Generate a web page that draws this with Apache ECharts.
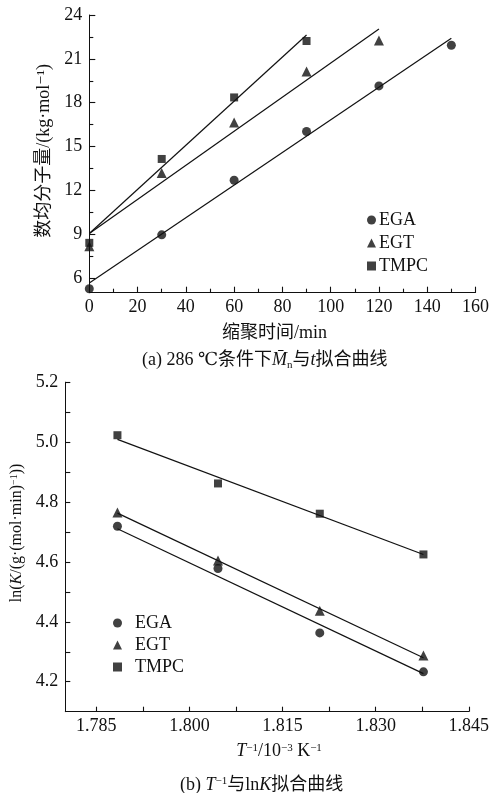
<!DOCTYPE html>
<html>
<head>
<meta charset="utf-8">
<script src="https://cdn.jsdelivr.net/npm/echarts@6/dist/echarts.min.js"></script>
<style>html,body{margin:0;padding:0;background:#fff}#c{width:492px;height:793px}</style>
</head>
<body>
<div id="c"></div>
<script>
// ---- chart (a): number-average molecular weight vs time ----
const timeMin = [0, 30, 60, 90, 120, 150];
const egaMn = [5.27, 8.96, 12.69, 16.03, 19.15, 21.93];
const egtMn = [8.18, 13.19, 16.65, 20.13, 22.25];
const tmpcMn = [8.41, 14.15, 18.36, 22.22];
const egaFitX = [0, 150], egaFitY = [5.66, 22.41];
const egtFitX = [0, 120], egtFitY = [9.05, 23.05];
const tmpcFitX = [0, 90], tmpcFitY = [9.05, 22.63];
const aYLabels = [6, 9, 12, 15, 18, 21, 24];
const aYMinor = [7.5, 10.5, 13.5, 16.5, 19.5, 22.5];

// ---- chart (b): lnK vs 1/T ----
const invT = [1.7884, 1.8046, 1.8210, 1.8377];
const egaLnK = [4.719, 4.578, 4.363, 4.233];
const egtLnK = [4.765, 4.605, 4.437, 4.288];
const tmpcLnK = [5.023, 4.862, 4.761, 4.625];
const egaFitB = [4.711, 4.227];
const egtFitB = [4.763, 4.280];
const tmpcFitB = [5.009, 4.625];
const bXLabels = [1.785, 1.800, 1.815, 1.830, 1.845];
const bXTicks = [1.785, 1.7925, 1.800, 1.8075, 1.815, 1.8225, 1.830, 1.8375, 1.845];
const bYLabels = [4.2, 4.4, 4.6, 4.8, 5.0, 5.2];
const bYTicks = [4.2, 4.3, 4.4, 4.5, 4.6, 4.7, 4.8, 4.9, 5.0, 5.1, 5.2];

const FONT = "'Liberation Serif','DejaVu Serif','Noto Sans CJK SC',serif";
const ink = '#111';
const zip = (xs, ys) => xs.map((x, i) => [x, ys[i]]);
const mkRich = (fs) => ({
  n: {fontFamily: FONT, fontSize: fs, color: ink, fontWeight: 'normal'},
  i: {fontFamily: FONT, fontSize: fs, color: ink, fontStyle: 'italic', fontWeight: 'normal'},
  sup: {fontFamily: FONT, fontSize: Math.round(fs * 0.62), color: ink, fontWeight: 'normal', verticalAlign: 'top', lineHeight: fs},
  sub: {fontFamily: FONT, fontSize: Math.round(fs * 0.62), color: ink, fontWeight: 'normal', verticalAlign: 'bottom', lineHeight: fs + 3}
});
const rich18 = mkRich(18);
const rich16 = mkRich(16);

const lineBase = {type: 'line', symbol: 'none', silent: true, lineStyle: {color: ink, width: 1.2}, z: 1};
const scat = (name, xi, yi, sym, size, data) => ({
  name, type: 'scatter', xAxisIndex: xi, yAxisIndex: yi, symbol: sym, symbolSize: size,
  itemStyle: {color: ink}, data, z: 3
});

const axisLine = {show: true, lineStyle: {color: ink, width: 1}};
const tickStyle = {color: ink, width: 1.1};
const lbl = {color: ink, fontFamily: FONT, fontSize: 18};

const chart = echarts.init(document.getElementById('c'), null, {renderer: 'canvas'});
chart.setOption({
  backgroundColor: '#fff',
  animation: false,
  textStyle: {fontFamily: FONT},
  title: [
    {text: '{n|(a) 286 ℃条件下}{i|M\u0304}{sub|n}{n|与}{i|t}{n|拟合曲线}', left: 137, top: 345,
     textStyle: {rich: rich18, fontWeight: 'normal'}},
    {text: '{n|(b) }{i|T}{sup|−1}{n|与ln}{i|K}{n|拟合曲线}', left: 175, top: 771,
     textStyle: {rich: rich18, fontWeight: 'normal'}}
  ],
  legend: [
    {data: ['EGA', 'EGT', 'TMPC'], orient: 'vertical', left: 362, top: 206, itemWidth: 9, itemHeight: 9,
     itemGap: 5, textStyle: {fontFamily: FONT, fontSize: 18, color: ink, padding: [0, 0, 0, -2]}},
    {data: ['EGA', 'EGT', 'TMPC'], orient: 'vertical', left: 108, top: 609, itemWidth: 9, itemHeight: 9,
     itemGap: 4, textStyle: {fontFamily: FONT, fontSize: 18, color: ink, padding: [0, 0, 0, 8]}}
  ],
  grid: [
    {left: 89.3, top: 15, width: 388.4, height: 277.7},
    {left: 65.3, top: 382.2, width: 403.7, height: 329.5}
  ],
  xAxis: [
    {type: 'value', gridIndex: 0, min: 0, max: 160, interval: 20, splitLine: {show: false},
     axisLine, axisTick: {show: true, inside: true, length: 6, lineStyle: tickStyle},
     minorTick: {show: true, splitNumber: 2, length: 4, lineStyle: tickStyle},
     axisLabel: {...lbl, margin: 6},
     name: '缩聚时间/min', nameLocation: 'middle', nameGap: 32,
     nameTextStyle: {fontFamily: FONT, fontSize: 18, color: ink, padding: [0, 16, 0, 0]}},
    {type: 'value', gridIndex: 1, min: 1.78, max: 1.845, splitLine: {show: false},
     axisLine,
     axisTick: {show: true, inside: true, length: 5, customValues: bXTicks, lineStyle: tickStyle},
     axisLabel: {...lbl, margin: 6, customValues: bXLabels, formatter: v => v.toFixed(3)},
     name: '{i|T}{sup|−1}{n|/10}{sup|−3}{n| K}{sup|−1}', nameLocation: 'middle', nameGap: 31,
     nameTextStyle: {rich: rich18, padding: [0, 0, 0, 24]}}
  ],
  yAxis: [
    {type: 'value', gridIndex: 0, position: 'left', min: 5, max: 24, splitLine: {show: false},
     axisLine,
     axisTick: {show: true, inside: true, length: 6, customValues: aYLabels, lineStyle: tickStyle},
     axisLabel: {...lbl, margin: 7, customValues: aYLabels},
     name: '数均分子量/(kg·mol⁻¹)', nameLocation: 'middle', nameGap: 36,
     nameTextStyle: {fontFamily: FONT, fontSize: 18, color: ink, padding: [0, 0, 0, 6]}},
    {type: 'value', gridIndex: 0, position: 'left', min: 5, max: 24, splitLine: {show: false},
     axisLine: {show: false},
     axisTick: {show: true, inside: true, length: 4, customValues: aYMinor, lineStyle: tickStyle},
     axisLabel: {show: false, customValues: aYMinor}},
    {type: 'value', gridIndex: 1, position: 'left', min: 4.1, max: 5.2, splitLine: {show: false},
     axisLine,
     axisTick: {show: true, inside: true, length: 5, customValues: bYTicks, lineStyle: tickStyle},
     axisLabel: {...lbl, margin: 7, customValues: bYLabels, formatter: v => v.toFixed(1)},
     name: '{n|ln(}{i|K}{n|/(g·(mol·min)}{sup|−1}{n|))}', nameLocation: 'middle', nameGap: 38,
     nameTextStyle: {rich: rich16, padding: [0, 0, 0, 28]}}
  ],
  series: [
    scat('EGA', 0, 0, 'circle', 9, zip(timeMin, egaMn)),
    scat('EGT', 0, 0, 'triangle', 10, zip(timeMin, egtMn)),
    scat('TMPC', 0, 0, 'rect', 8, zip(timeMin, tmpcMn)),
    {...lineBase, name: 'fitA1', xAxisIndex: 0, yAxisIndex: 0, data: zip(egaFitX, egaFitY)},
    {...lineBase, name: 'fitA2', xAxisIndex: 0, yAxisIndex: 0, data: zip(egtFitX, egtFitY)},
    {...lineBase, name: 'fitA3', xAxisIndex: 0, yAxisIndex: 0, data: zip(tmpcFitX, tmpcFitY)},
    scat('EGA', 1, 2, 'circle', 9, zip(invT, egaLnK)),
    scat('EGT', 1, 2, 'triangle', 10, zip(invT, egtLnK)),
    scat('TMPC', 1, 2, 'rect', 8, zip(invT, tmpcLnK)),
    {...lineBase, name: 'fitB1', xAxisIndex: 1, yAxisIndex: 2, data: zip([invT[0], invT[3]], egaFitB)},
    {...lineBase, name: 'fitB2', xAxisIndex: 1, yAxisIndex: 2, data: zip([invT[0], invT[3]], egtFitB)},
    {...lineBase, name: 'fitB3', xAxisIndex: 1, yAxisIndex: 2, data: zip([invT[0], invT[3]], tmpcFitB)}
  ]
});
</script>
</body>
</html>
